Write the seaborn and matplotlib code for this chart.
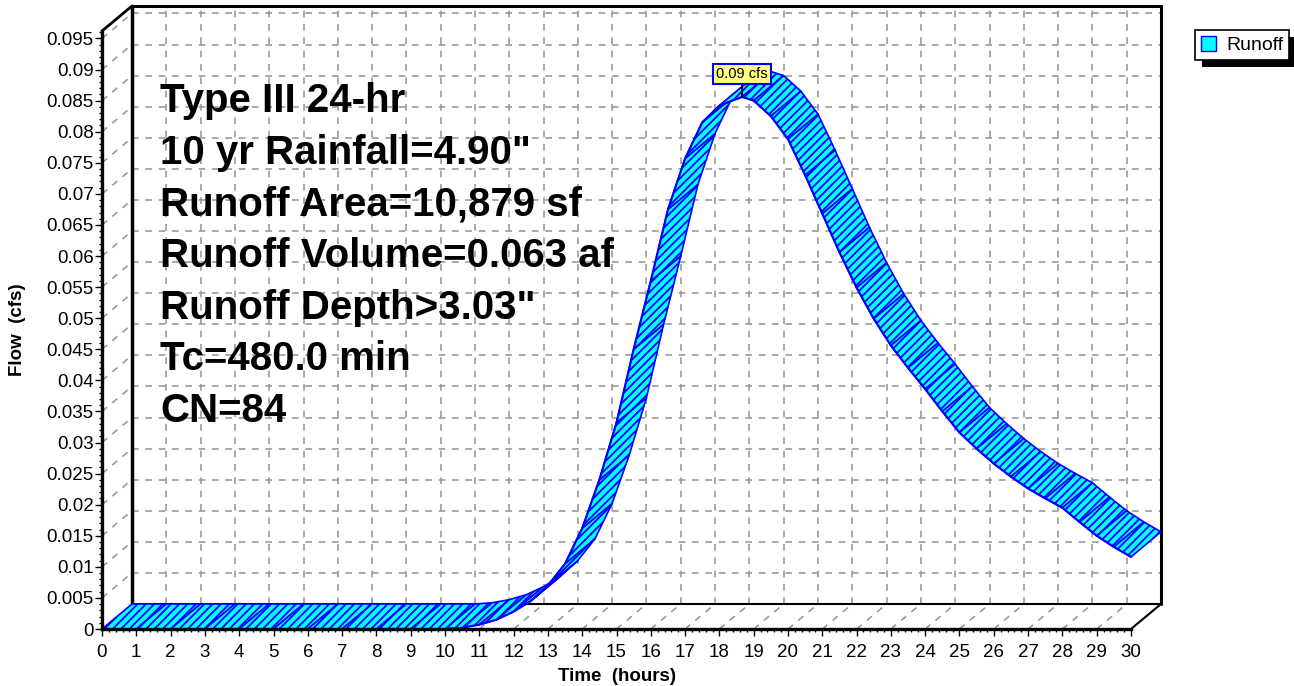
"""Runoff hydrograph drawn as a 3-D ribbon, HydroCAD style."""
import matplotlib
matplotlib.use('Agg')
import matplotlib.pyplot as plt
import matplotlib.ticker as mticker
from matplotlib.patches import Patch, Rectangle
import numpy as np
import pandas as pd
import seaborn as sns

# hydrograph (front edge of the ribbon)
hours = [0, 1, 2, 3, 4, 5, 6, 7, 8, 9, 10, 10.5, 11, 11.5, 12, 12.5, 13,
         13.5, 14, 14.5, 15, 15.5, 16, 16.5, 17, 17.5, 18, 18.66, 19, 19.5,
         20, 20.5, 21, 21.5, 22, 22.5, 23, 23.5, 24, 24.5, 25, 25.5, 26,
         26.5, 27, 27.5, 28, 28.5, 29, 29.5, 30]
flow = [0, 0, 0, 0, 0, 0, 0, 0, 0, 0, 0, 0.0002, 0.0007, 0.0015, 0.0028,
        0.0045, 0.0070, 0.0105, 0.0162, 0.0240, 0.0332, 0.0450, 0.0560,
        0.0675, 0.0757, 0.0815, 0.0842, 0.0856, 0.0850, 0.0825, 0.0788,
        0.0730, 0.0668, 0.0606, 0.0549, 0.0499, 0.0456, 0.0420, 0.0386,
        0.0350, 0.0316, 0.0290, 0.0266, 0.0245, 0.0226, 0.0210, 0.0195,
        0.0172, 0.0150, 0.0132, 0.0116]
series_name = 'Runoff'
peak_label = '0.09 cfs'
info_lines = ['Type III 24-hr', '10 yr Rainfall=4.90"', 'Runoff Area=10,879 sf',
              'Runoff Volume=0.063 af', 'Runoff Depth>3.03"', 'Tc=480.0 min', 'CN=84']
x_ticks = list(range(0, 31))
y_ticks = [0, 0.005, 0.01, 0.015, 0.02, 0.025, 0.03, 0.035, 0.04, 0.045, 0.05,
           0.055, 0.06, 0.065, 0.07, 0.075, 0.08, 0.085, 0.09, 0.095]

df = pd.DataFrame({'hours': hours, 'flow': flow})

sns.set_style('white')
plt.rcParams['font.family'] = ['Liberation Sans', 'DejaVu Sans']
plt.rcParams['hatch.linewidth'] = 1.3
plt.rcParams['text.color'] = 'black'
plt.rcParams['axes.labelcolor'] = 'black'

W, H = 1294, 686
fig = plt.figure(figsize=(W / 100, H / 100), dpi=100)
# front plane of the box
ax = fig.add_axes([102 / W, (H - 629) / H, 1029 / W, 598 / H])
x_max, y_max = 30, 0.0962
ax.set_xlim(0, x_max)
ax.set_ylim(0, y_max)

# depth offset of the back wall (30 px right, 25 px up)
dx = 30 / (1029 / x_max)
dy = 25 / (598 / y_max)

grid = dict(color='#9a9a9a', lw=1.2, ls=(0, (4, 4)), clip_on=False, zorder=1)
for x in x_ticks[1:-1]:
    ax.plot([x + dx, x + dx], [dy, y_max + dy], **grid)      # back wall
    ax.plot([x, x + dx], [0, dy], **grid)                    # floor
for y in y_ticks[1:]:
    ax.plot([dx, x_max + dx], [y + dy, y + dy], **grid)      # back wall
    ax.plot([0, dx], [y, y + dy], **grid)                    # left wall

# box edges
edge = dict(color='black', clip_on=False, zorder=2)
ax.plot([dx, dx], [dy, y_max + dy], lw=2.5, **edge)
ax.plot([dx, x_max + dx], [y_max + dy, y_max + dy], lw=2.2, **edge)
ax.plot([x_max + dx, x_max + dx], [dy, y_max + dy], lw=2.2, **edge)
ax.plot([dx, x_max + dx], [dy, dy], lw=1.5, **edge)
ax.plot([0, dx], [y_max, y_max + dy], lw=2, **edge)
ax.plot([x_max, x_max + dx], [0, dy], lw=1.5, **edge)

# ribbon, one quad per time step, painted left to right
for i in range(len(hours) - 1):
    x0, x1 = hours[i], hours[i + 1]
    y0, y1 = flow[i], flow[i + 1]
    ax.fill([x0, x1, x1 + dx, x0 + dx], [y0, y1, y1 + dy, y0 + dy],
            facecolor='#00ffff', edgecolor='#0000ff', hatch='////', lw=1.2,
            clip_on=False, zorder=3)
sns.lineplot(data=df, x='hours', y='flow', color='#0000ff', lw=1.5, ax=ax,
             zorder=4, clip_on=False)

# peak label
ipk = int(np.argmax(flow))
ax.annotate(peak_label, xy=(hours[ipk], flow[ipk]), xytext=(0, 11.5),
            textcoords='offset points', ha='center', va='bottom', fontsize=10.5,
            bbox=dict(boxstyle='square,pad=0.2', fc='#ffff80', ec='#0000ff', lw=1.5),
            arrowprops=dict(arrowstyle='-', color='black', lw=1.5,
                            shrinkA=0, shrinkB=0), zorder=6)

# axes, ticks, labels
for side in ['top', 'right']:
    ax.spines[side].set_visible(False)
for side in ['left', 'bottom']:
    ax.spines[side].set_linewidth(2.4)
    ax.spines[side].set_color('black')
    ax.spines[side].set_zorder(5)
ax.set_xticks(x_ticks)
ax.set_yticks(y_ticks)
ax.yaxis.set_major_formatter(mticker.FuncFormatter(lambda v, p: f'{v:g}'))
ax.xaxis.set_minor_locator(mticker.MultipleLocator(0.2))
ax.yaxis.set_minor_locator(mticker.MultipleLocator(0.001))
ax.tick_params(which='major', direction='out', length=5, width=1, colors='black',
               labelsize=13.5, left=True, bottom=True)
ax.tick_params(which='minor', direction='out', length=2.5, width=1, colors='black',
               left=True, bottom=True)
ax.tick_params(axis='y', pad=1)
ax.tick_params(axis='x', pad=6)
ax.set_xlabel('Time  (hours)', fontsize=13.5, fontweight='bold', labelpad=5)
ax.set_ylabel('')
fig.text(18 / W, 1 - 330 / H, 'Flow  (cfs)', rotation=90, fontsize=13.5,
         fontweight='bold', ha='center', va='center')
ax.patch.set_visible(False)

for k, line in enumerate(info_lines):
    fig.text(160 / W, 1 - (101 + 51.7 * k) / H, line, fontsize=29,
             fontweight='bold', ha='left', va='center', color='black')

leg = fig.legend(handles=[Patch(facecolor='#00ffff', edgecolor='#0000ff', label=series_name)],
                 loc='upper left', bbox_to_anchor=(1195 / W, 1 - 30 / H), fontsize=14,
                 frameon=True, fancybox=False, edgecolor='black', framealpha=1,
                 handlelength=0.8, handleheight=0.8, handletextpad=0.5,
                 borderpad=0.3, borderaxespad=0)
leg.get_frame().set_linewidth(1.2)
# solid black drop shadow behind the legend box
fig.canvas.draw()
bb = leg.get_window_extent()
fig.patches.append(Rectangle((bb.x0 + 7, bb.y0 - 7), bb.width, bb.height,
                             facecolor='black', edgecolor='none',
                             transform=None, zorder=leg.get_zorder() - 0.1))

fig.savefig('out.png', dpi=100, facecolor='white')
